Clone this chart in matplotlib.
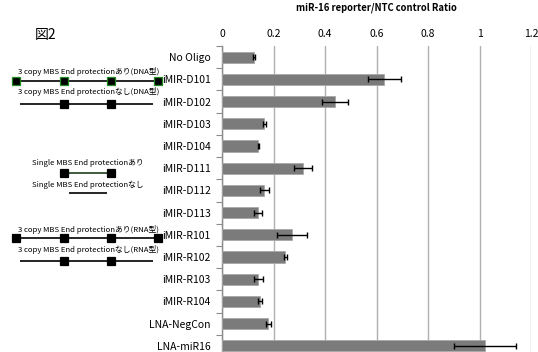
import numpy as np
import matplotlib
matplotlib.use("Agg")
import matplotlib.pyplot as plt
from matplotlib.ticker import FixedLocator

plt.rcParams['font.family'] = ['Noto Sans CJK JP', 'DejaVu Sans']

# data
samples = ["No Oligo", "iMIR-D101", "iMIR-D102", "iMIR-D103", "iMIR-D104",
           "iMIR-D111", "iMIR-D112", "iMIR-D113", "iMIR-R101", "iMIR-R102",
           "iMIR-R103", "iMIR-R104", "LNA-NegCon", "LNA-miR16"]
ratio = [0.125, 0.631, 0.439, 0.165, 0.140, 0.313, 0.165, 0.140,
         0.272, 0.246, 0.141, 0.148, 0.180, 1.020]
err = [0.005, 0.065, 0.049, 0.004, 0.002, 0.035, 0.017, 0.014,
       0.059, 0.006, 0.018, 0.007, 0.010, 0.120]
xticks = [0, 0.2, 0.4, 0.6, 0.8, 1, 1.2]
xticklabels = ["0", "0.2", "0.4", "0.6", "0.8", "1", "1.2"]

# schematic captions (left panel)
captions = ["3 copy MBS End protectionあり(DNA型)",
            "3 copy MBS End protectionなし(DNA型)",
            "Single MBS End protectionあり",
            "Single MBS End protectionなし",
            "3 copy MBS End protectionあり(RNA型)",
            "3 copy MBS End protectionなし(RNA型)"]

W, H = 538, 352
fig = plt.figure(figsize=(W / 100, H / 100), dpi=100)

# main bar chart, runs slightly past the bottom edge like the reference crop
ax = fig.add_axes([222 / W, 1 - 357 / H, 309 / W, 311 / H])
y = np.arange(len(samples))
ax.barh(y, ratio, height=0.5, color="#7b7b7b", edgecolor="#a8a8a8", linewidth=0.6,
        xerr=err, error_kw=dict(ecolor="black", elinewidth=1.0, capsize=2.2, capthick=1.0),
        zorder=3)
ax.set_ylim(len(samples) - 0.5, -0.5)
ax.set_xlim(0, 1.2)
ax.set_yticks(y)
ax.set_yticklabels(samples, fontsize=7.5)
ax.yaxis.set_minor_locator(FixedLocator(np.arange(-0.5, len(samples), 1)))
ax.tick_params(axis="y", which="major", length=0, pad=8)
ax.tick_params(axis="y", which="minor", length=4, color="#8c8c8c", width=0.8)
ax.set_xticks(xticks)
ax.set_xticklabels(xticklabels, fontsize=7.5)
ax.xaxis.tick_top()
ax.tick_params(axis="x", length=0, pad=5)
ax.grid(axis="x", color="#b0b0b0", linewidth=1.0, zorder=0)
for s in ["top", "right", "bottom"]:
    ax.spines[s].set_visible(False)
ax.spines["left"].set_color("#8c8c8c")
ax.spines["left"].set_linewidth(1.0)

# overlay in pixel coordinates for the schematic diagrams and title
ov = fig.add_axes([0, 0, 1, 1], zorder=5)
ov.set_xlim(0, W)
ov.set_ylim(H, 0)
ov.axis("off")

ov.text(376, 8, "miR-16 reporter/NTC control Ratio", fontsize=6.8, fontweight="bold",
        ha="center", va="center")
ov.text(35, 35, "図2", fontsize=10, va="center", ha="left")

cap_y = [71, 91, 163, 185, 229, 250]
line_y = [81, 104, 173, 193, 238, 261]
line_x = [(16, 158), (20, 153), (64, 111), (69, 107), (16, 158), (20, 153)]
sq_x = [[16, 64, 111, 158], [64, 111], [64, 111], [], [16, 64, 111, 158], [64, 111]]
sq_edge = ["#1e8c1e", "black", "black", "black", "black", "black"]
line_col = ["black", "black", "#1f3f1f", "black", "black", "black"]

for c, cy, ly, (x0, x1), sx, ec, lc in zip(captions, cap_y, line_y, line_x, sq_x, sq_edge, line_col):
    ov.text(89 if "3 copy" in c else 88, cy, c, fontsize=5.6,
            ha="center", va="center")
    ov.plot([x0, x1], [ly, ly], color=lc, linewidth=1.2, solid_capstyle="butt")
    if sx:
        ov.plot(sx, [ly] * len(sx), linestyle="none", marker="s", markersize=5.5,
                markerfacecolor="black", markeredgecolor=ec, markeredgewidth=0.9)

fig.savefig("out.png", dpi=100)
